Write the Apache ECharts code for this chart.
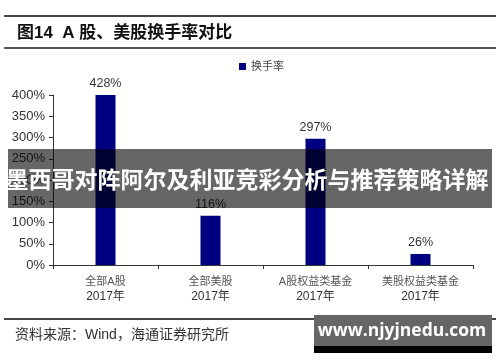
<!DOCTYPE html>
<html><head><meta charset="utf-8">
<script src="https://cdn.jsdelivr.net/npm/echarts@6/dist/echarts.min.js"></script>
<style>html,body{margin:0;padding:0;background:#fff}#c{width:500px;height:362px}</style>
</head><body><div id="c"></div>
<script>
const categoryNames = ['全部A股', '全部美股', 'A股权益类基金', '美股权益类基金'];
const categoryYear = '2017年';
const turnover = [428, 116, 297, 26];
const yTicks = [0, 50, 100, 150, 200, 250, 300, 350, 400];
const seriesName = '换手率';
const titleText = '图14  A 股、美股换手率对比';
const sourceText = '资料来源：Wind，海通证券研究所';
const bannerText = '墨西哥对阵阿尔及利亚竞彩分析与推荐策略详解';
const watermarkText = 'www.njyjnedu.com';

const categories = categoryNames.map(n => n + '\n' + categoryYear);
const chart = echarts.init(document.getElementById('c'), null, {renderer: 'canvas'});
const cjk = '"Liberation Sans", "Noto Sans CJK SC", sans-serif';
chart.setOption({
  animation: false,
  textStyle: {fontFamily: cjk},
  legend: {data: [seriesName], left: 234, top: 56, itemWidth: 7, itemHeight: 7, icon: 'rect', itemGap: 4,
    textStyle: {fontSize: 11, color: '#444', fontFamily: cjk}},
  grid: {left: 53, right: 27, top: 95, bottom: 97, containLabel: false},
  xAxis: {type: 'category', data: categories,
    axisLine: {lineStyle: {color: '#333', width: 1}},
    axisTick: {show: true, alignWithLabel: false, length: 4, lineStyle: {color: '#333'}},
    axisLabel: {interval: 0, margin: 9, fontFamily: cjk,
      formatter: v => { const p = v.split('\n'); return '{a|' + p[0] + '}\n{b|' + p[1] + '}'; },
      rich: {a: {fontSize: 11, color: '#555', lineHeight: 15, fontFamily: cjk},
             b: {fontSize: 12, color: '#333', lineHeight: 16, fontFamily: cjk}}}},
  yAxis: {type: 'value', min: yTicks[0], max: yTicks[yTicks.length - 1], interval: 50,
    splitLine: {show: false},
    axisLine: {show: true, lineStyle: {color: '#333'}},
    axisTick: {show: true, length: 4, lineStyle: {color: '#333'}},
    axisLabel: {fontSize: 13, color: '#333', margin: 8, formatter: v => v + '%', fontFamily: cjk}},
  series: [{name: seriesName, type: 'bar', data: turnover, barWidth: 20, clip: true,
    itemStyle: {color: '#000080'},
    label: {show: true, position: 'top', distance: 5, formatter: p => p.value + '%', fontSize: 12.5, color: '#333', fontFamily: cjk}}],
  graphic: [
    {type: 'rect', shape: {x: 4, y: 15, width: 492, height: 2}, style: {fill: '#444'}, silent: true},
    {type: 'text', x: 17, y: 33, style: {text: titleText, fontSize: 17, fontWeight: 'bold', fill: '#111',
      verticalAlign: 'middle', fontFamily: cjk}},
    {type: 'rect', shape: {x: 4, y: 47, width: 492, height: 2}, style: {fill: '#555'}, silent: true},
    {type: 'rect', shape: {x: 4, y: 318, width: 492, height: 2}, style: {fill: '#444'}, silent: true},
    {type: 'text', x: 15, y: 335, style: {text: sourceText, fontSize: 14, fill: '#333', verticalAlign: 'middle', fontFamily: cjk}},
    {type: 'rect', shape: {x: 8, y: 149, width: 484, height: 59}, style: {fill: 'rgba(0,0,0,0.6)'}, z: 100},
    {type: 'text', x: 247, y: 179, z: 101, style: {text: bannerText, fontSize: 23, fontWeight: 'bold', fill: '#fff',
      align: 'center', verticalAlign: 'middle', fontFamily: '"Noto Sans CJK SC", sans-serif'}},
    {type: 'rect', shape: {x: 314, y: 315, width: 178, height: 31}, style: {fill: '#666'}, z: 100},
    {type: 'rect', shape: {x: 314, y: 346, width: 178, height: 7}, style: {fill: '#000'}, z: 100},
    {type: 'text', x: 402, y: 331, z: 101, style: {text: watermarkText, fontSize: 17.5, fontWeight: 'bold', fill: '#fff',
      align: 'center', verticalAlign: 'middle', fontFamily: '"Open Sans", "DejaVu Sans", sans-serif'}}
  ]
});
</script></body></html>
